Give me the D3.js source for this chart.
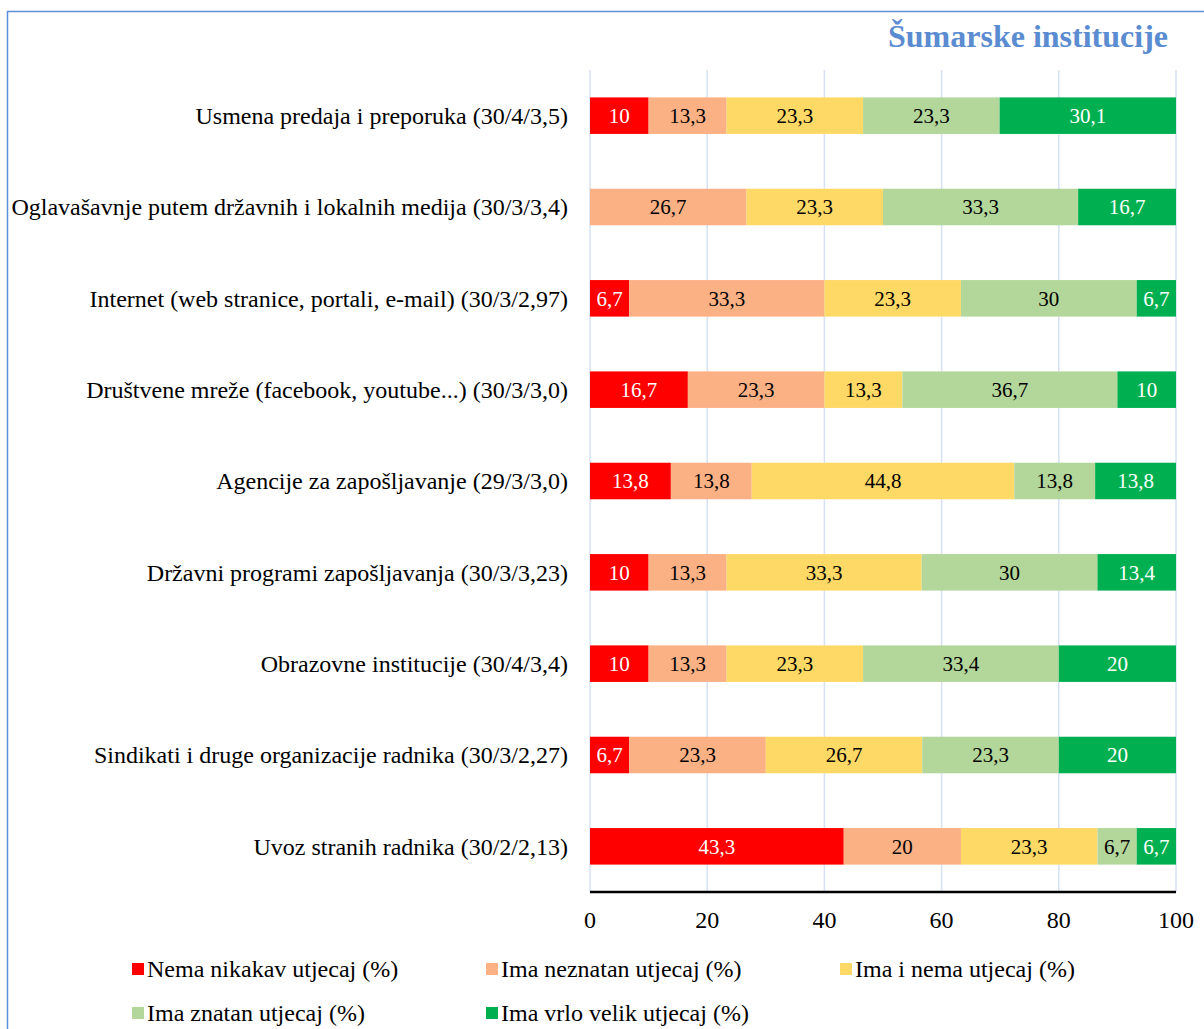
<!DOCTYPE html>
<html>
<head>
<meta charset="utf-8">
<script src="https://cdn.jsdelivr.net/npm/d3@7"></script>
<style>
  body { margin: 0; background: #fff; }
  text { font-family: "Liberation Serif", "Times New Roman", serif; }
</style>
</head>
<body>
<div id="chart-area"></div>
<script>
// Data
var categories = [
  "Usmena predaja i preporuka (30/4/3,5)",
  "Oglavašavnje putem državnih i lokalnih medija (30/3/3,4)",
  "Internet (web stranice, portali, e-mail) (30/3/2,97)",
  "Društvene mreže (facebook, youtube...) (30/3/3,0)",
  "Agencije za zapošljavanje (29/3/3,0)",
  "Državni programi zapošljavanja (30/3/3,23)",
  "Obrazovne institucije (30/4/3,4)",
  "Sindikati i druge organizacije radnika (30/3/2,27)",
  "Uvoz stranih radnika (30/2/2,13)"
];
var seriesNames = [
  "Nema nikakav utjecaj (%)",
  "Ima neznatan utjecaj (%)",
  "Ima i nema utjecaj (%)",
  "Ima znatan utjecaj (%)",
  "Ima vrlo velik utjecaj (%)"
];
var nemaNikakav = [10, 0, 6.7, 16.7, 13.8, 10, 10, 6.7, 43.3];
var imaNeznatan = [13.3, 26.7, 33.3, 23.3, 13.8, 13.3, 13.3, 23.3, 20];
var imaINema    = [23.3, 23.3, 23.3, 13.3, 44.8, 33.3, 23.3, 26.7, 23.3];
var imaZnatan   = [23.3, 33.3, 30, 36.7, 13.8, 30, 33.4, 23.3, 6.7];
var imaVrloVelik = [30.1, 16.7, 6.7, 10, 13.8, 13.4, 20, 20, 6.7];
var xTicks = [0, 20, 40, 60, 80, 100];

var seriesValues = [nemaNikakav, imaNeznatan, imaINema, imaZnatan, imaVrloVelik];
var colors = ["#FF0000", "#FCB185", "#FFD966", "#B3D69B", "#00B050"];
var labelColors = ["#fff", "#000", "#000", "#000", "#fff"];

var width = 1204, height = 1029;
var margin = { left: 590, right: 28, top: 70, bottom: 137 };

var svg = d3.select("#chart-area")
  .append("svg")
  .attr("width", width)
  .attr("height", height);

// Frame
svg.append("path")
  .attr("d", "M7.5," + height + " V11.5 H" + width)
  .attr("fill", "none")
  .attr("stroke", "#5B8FD6")
  .attr("stroke-width", 1.5);

// Title
svg.append("text")
  .attr("x", 1168)
  .attr("y", 47)
  .attr("text-anchor", "end")
  .attr("font-size", 32)
  .attr("font-weight", "bold")
  .attr("fill", "#5B8BD0")
  .text("Šumarske institucije");

var x = d3.scaleLinear()
  .domain([0, 100])
  .range([margin.left, width - margin.right]);
var y = d3.scaleBand()
  .domain(categories)
  .range([margin.top, height - margin.bottom])
  .paddingInner(0.6)
  .paddingOuter(0.3);

// Gridlines
svg.append("g")
  .selectAll("line")
  .data(xTicks)
  .enter()
  .append("line")
  .attr("x1", function (d) { return x(d); })
  .attr("x2", function (d) { return x(d); })
  .attr("y1", margin.top)
  .attr("y2", height - margin.bottom)
  .attr("stroke", "#D6E2F2")
  .attr("stroke-width", 1.5);

// Stack
var rows = categories.map(function (c, i) {
  var row = { cat: c };
  seriesNames.forEach(function (s, j) { row[s] = seriesValues[j][i]; });
  return row;
});
var stacked = d3.stack().keys(seriesNames)(rows);

var fmt = function (v) { return String(v).replace(".", ","); };

var layers = svg.append("g")
  .selectAll("g")
  .data(stacked)
  .enter()
  .append("g");

layers.selectAll("rect")
  .data(function (d) { return d; })
  .enter()
  .append("rect")
  .attr("x", function (d) { return x(d[0]); })
  .attr("width", function (d) { return Math.max(0, x(Math.min(d[1], 100)) - x(d[0])); })
  .attr("y", function (d) { return y(d.data.cat); })
  .attr("height", y.bandwidth())
  .attr("fill", function () { return colors[d3.select(this.parentNode).datum().index]; });

layers.each(function (layer) {
  d3.select(this).selectAll("text")
    .data(layer.filter(function (d) { return d[1] - d[0] > 0; }))
    .enter()
    .append("text")
    .attr("x", function (d) { return (x(d[0]) + x(Math.min(d[1], 100))) / 2; })
    .attr("y", function (d) { return y(d.data.cat) + y.bandwidth() / 2; })
    .attr("dy", "0.35em")
    .attr("text-anchor", "middle")
    .attr("font-size", 21)
    .attr("fill", labelColors[layer.index])
    .text(function (d) { return fmt(d.data[layer.key]); });
});

// Category labels
svg.append("g")
  .selectAll("text")
  .data(categories)
  .enter()
  .append("text")
  .attr("x", 568)
  .attr("y", function (d) { return y(d) + y.bandwidth() / 2; })
  .attr("dy", "0.35em")
  .attr("text-anchor", "end")
  .attr("font-size", 24)
  .attr("fill", "#000")
  .text(function (d) { return d; });

// X axis
svg.append("line")
  .attr("x1", x(0))
  .attr("x2", x(100))
  .attr("y1", height - margin.bottom)
  .attr("y2", height - margin.bottom)
  .attr("stroke", "#000")
  .attr("stroke-width", 2.5);

svg.append("g")
  .selectAll("text")
  .data(xTicks)
  .enter()
  .append("text")
  .attr("x", function (d) { return x(d); })
  .attr("y", 928)
  .attr("text-anchor", "middle")
  .attr("font-size", 24)
  .text(function (d) { return d; });

// Legend
var legendPos = [[132, 969], [486, 969], [840, 969], [132, 1013], [486, 1013]];
seriesNames.forEach(function (name, i) {
  var row = svg.append("g")
    .attr("transform", "translate(" + legendPos[i][0] + "," + legendPos[i][1] + ")");
  row.append("rect")
    .attr("x", 0)
    .attr("y", -6)
    .attr("width", 12)
    .attr("height", 12)
    .attr("fill", colors[i]);
  row.append("text")
    .attr("x", 15)
    .attr("y", 0)
    .attr("dy", "0.33em")
    .attr("font-size", 24)
    .text(name);
});
</script>
</body>
</html>
